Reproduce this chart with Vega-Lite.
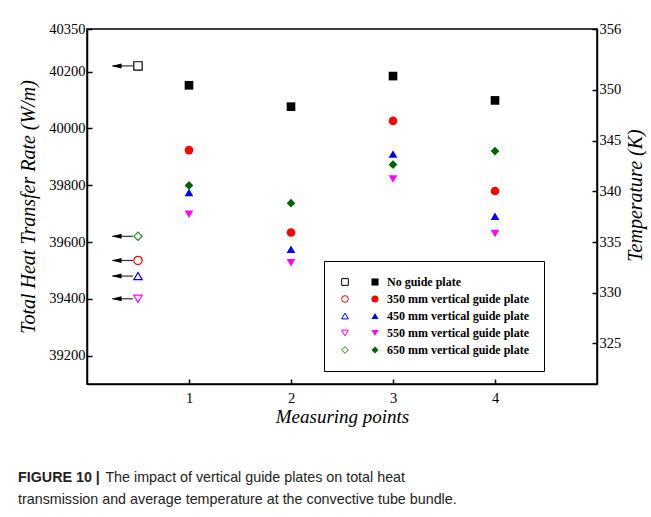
{
  "$schema": "https://vega.github.io/schema/vega-lite/v6.json",
  "width": 510,
  "height": 355,
  "autosize": {"type": "none"},
  "padding": {"left": 87, "top": 29, "right": 54, "bottom": 133},
  "background": "white",
  "config": {
    "view": {"stroke": "black", "strokeWidth": 1.5},
    "font": "Liberation Serif",
    "axis": {
      "domainColor": "black", "domainWidth": 1.5,
      "tickColor": "black", "tickWidth": 1.5, "tickSize": -5,
      "labelColor": "black", "labelFont": "Liberation Serif", "labelFontSize": 14.5,
      "titleFont": "Liberation Serif", "titleFontStyle": "italic", "titleFontWeight": "normal",
      "titleColor": "black", "titleFontSize": 20, "grid": false
    }
  },
  "title": {
    "text": "FIGURE 10 |",
    "subtitle": ["\u200b\u00a0\u00a0\u00a0\u00a0\u00a0\u00a0\u00a0\u00a0\u00a0\u00a0\u00a0\u00a0\u00a0\u00a0\u00a0\u00a0\u00a0\u00a0\u00a0\u00a0\u00a0\u00a0The impact of vertical guide plates on total heat", "transmission and average temperature at the convective tube bundle."],
    "orient": "bottom", "anchor": "start", "frame": "group", "dx": -69, "offset": 44,
    "font": "Liberation Sans", "fontSize": 14.3, "fontWeight": "bold", "color": "#222",
    "subtitleFont": "Liberation Sans", "subtitleFontSize": 14.3, "subtitleColor": "#222",
    "subtitleLineHeight": 22, "subtitlePadding": -14.3
  },
  "datasets": {
    "heat": [
      {"plate": "No guide plate", "heat": 40220},
      {"plate": "350 mm vertical guide plate", "heat": 39535},
      {"plate": "450 mm vertical guide plate", "heat": 39480},
      {"plate": "550 mm vertical guide plate", "heat": 39400},
      {"plate": "650 mm vertical guide plate", "heat": 39620}
    ],
    "temp": [
      {"point": 1, "plate": "No guide plate", "temp": 350.45},
      {"point": 1, "plate": "350 mm vertical guide plate", "temp": 344.06},
      {"point": 1, "plate": "450 mm vertical guide plate", "temp": 339.87},
      {"point": 1, "plate": "550 mm vertical guide plate", "temp": 337.73},
      {"point": 1, "plate": "650 mm vertical guide plate", "temp": 340.58},
      {"point": 2, "plate": "No guide plate", "temp": 348.34},
      {"point": 2, "plate": "350 mm vertical guide plate", "temp": 335.94},
      {"point": 2, "plate": "450 mm vertical guide plate", "temp": 334.28},
      {"point": 2, "plate": "550 mm vertical guide plate", "temp": 332.96},
      {"point": 2, "plate": "650 mm vertical guide plate", "temp": 338.83},
      {"point": 3, "plate": "No guide plate", "temp": 351.36},
      {"point": 3, "plate": "350 mm vertical guide plate", "temp": 346.94},
      {"point": 3, "plate": "450 mm vertical guide plate", "temp": 343.67},
      {"point": 3, "plate": "550 mm vertical guide plate", "temp": 341.2},
      {"point": 3, "plate": "650 mm vertical guide plate", "temp": 342.63},
      {"point": 4, "plate": "No guide plate", "temp": 348.96},
      {"point": 4, "plate": "350 mm vertical guide plate", "temp": 340.03},
      {"point": 4, "plate": "450 mm vertical guide plate", "temp": 337.54},
      {"point": 4, "plate": "550 mm vertical guide plate", "temp": 335.84},
      {"point": 4, "plate": "650 mm vertical guide plate", "temp": 343.96}
    ]
  },
  "layer": [
    {
      "data": {"name": "heat"},
      "encoding": {
        "y": {
          "field": "heat", "type": "quantitative",
          "scale": {"domain": [39100, 40350], "nice": false, "zero": false},
          "axis": {"orient": "left", "values": [39200, 39400, 39600, 39800, 40000, 40200, 40350], "format": "d",
                   "title": "Total Heat Transfer Rate (W/m)", "labelPadding": 7, "titlePadding": 10}
        }
      },
      "layer": [
        {
          "mark": {"type": "rule", "color": "#333", "strokeWidth": 1.2},
          "encoding": {"x": {"datum": 0.25, "type": "quantitative"}, "x2": {"datum": 0.45}}
        },
        {
          "mark": {"type": "point", "shape": "M-1,0L1,-0.5L1,0.5Z", "filled": true, "color": "black", "size": 100, "opacity": 1},
          "encoding": {"x": {"datum": 0.29, "type": "quantitative"}}
        },
        {
          "mark": {"type": "point", "filled": false, "size": 70, "strokeWidth": 1.2, "opacity": 1},
          "encoding": {
            "x": {"datum": 0.5, "type": "quantitative"},
            "shape": {
              "field": "plate", "type": "nominal",
              "scale": {"domain": ["No guide plate", "350 mm vertical guide plate", "450 mm vertical guide plate", "550 mm vertical guide plate", "650 mm vertical guide plate"],
                        "range": ["square", "circle", "triangle-up", "triangle-down", "diamond"]},
              "legend": {"orient": "none", "legendX": 237, "legendY": 232, "title": null, "padding": 15,
                         "strokeColor": "black", "labelFont": "Liberation Serif", "labelFontWeight": "bold",
                         "labelFontSize": 12, "labelColor": "black", "labelOffset": 36, "symbolSize": 45,
                         "symbolStrokeWidth": 1, "rowPadding": 5, "labelLimit": 300}
            },
            "color": {
              "field": "plate", "type": "nominal",
              "scale": {"domain": ["No guide plate", "350 mm vertical guide plate", "450 mm vertical guide plate", "550 mm vertical guide plate", "650 mm vertical guide plate"],
                        "range": ["black", "#ff0000", "#0000ff", "#ff00ff", "#228b22"]},
              "legend": {"orient": "none", "legendX": 237, "legendY": 232, "title": null, "padding": 15,
                         "strokeColor": "black", "labelFont": "Liberation Serif", "labelFontWeight": "bold",
                         "labelFontSize": 12, "labelColor": "black", "labelOffset": 36, "symbolSize": 45,
                         "symbolStrokeWidth": 1, "rowPadding": 5, "labelLimit": 300}
            }
          }
        }
      ]
    },
    {
      "data": {"name": "temp"},
      "mark": {"type": "point", "filled": true, "size": 75, "opacity": 1},
      "encoding": {
        "x": {
          "field": "point", "type": "quantitative",
          "scale": {"domain": [0, 5], "nice": false, "zero": false},
          "axis": {"values": [1, 2, 3, 4], "format": "d", "title": "Measuring points", "titleFontSize": 19, "labelPadding": 12, "titlePadding": 3}
        },
        "y": {
          "field": "temp", "type": "quantitative",
          "scale": {"domain": [321, 356], "nice": false, "zero": false},
          "axis": {"orient": "right", "values": [325, 330, 335, 340, 345, 350, 356], "title": "Temperature (K)",
                   "titleAngle": 270, "titleBaseline": "top", "titleY": 166, "labelPadding": 7, "titlePadding": 5}
        },
        "shape": {
          "field": "plate", "type": "nominal",
          "scale": {"domain": ["No guide plate", "350 mm vertical guide plate", "450 mm vertical guide plate", "550 mm vertical guide plate", "650 mm vertical guide plate"],
                    "range": ["square", "circle", "triangle-up", "triangle-down", "diamond"]},
          "legend": {"orient": "none", "legendX": 267, "legendY": 232, "title": null, "padding": 15,
                     "labelExpr": "' '", "labelFont": "Liberation Serif", "labelFontWeight": "bold", "labelFontSize": 12,
                     "labelOffset": 0, "symbolSize": 50, "rowPadding": 5, "symbolStrokeWidth": 0}
        },
        "color": {
          "field": "plate", "type": "nominal",
          "scale": {"domain": ["No guide plate", "350 mm vertical guide plate", "450 mm vertical guide plate", "550 mm vertical guide plate", "650 mm vertical guide plate"],
                    "range": ["black", "#ff0000", "#0000ff", "#ff00ff", "#006400"]},
          "legend": {"orient": "none", "legendX": 267, "legendY": 232, "title": null, "padding": 15,
                     "labelExpr": "' '", "labelFont": "Liberation Serif", "labelFontWeight": "bold", "labelFontSize": 12,
                     "labelOffset": 0, "symbolSize": 50, "rowPadding": 5, "symbolStrokeWidth": 0}
        }
      }
    }
  ],
  "resolve": {"scale": {"y": "independent", "shape": "independent", "color": "independent"}}
}
